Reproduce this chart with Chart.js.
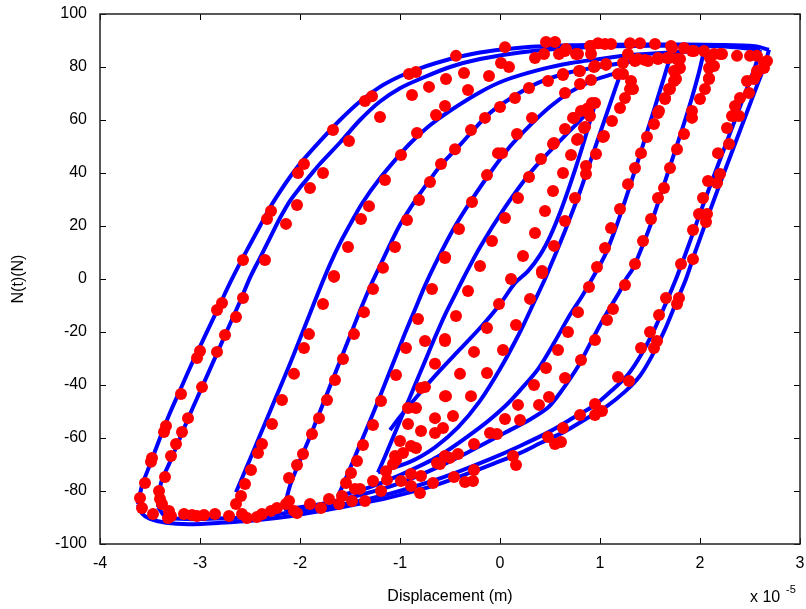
<!DOCTYPE html>
<html>
<head>
<meta charset="utf-8">
<script src="https://cdn.jsdelivr.net/npm/chart.js@4.4.1/dist/chart.umd.min.js"></script>
<style>
  html, body { margin: 0; padding: 0; background: #fff; }
</style>
</head>
<body>
<canvas id="chart" width="806" height="609"></canvas>
<script>
// displacement in units of 1e-5 m, force N(t) in N
const xTicks = [-4, -3, -2, -1, 0, 1, 2, 3];
const yTicks = [-100, -80, -60, -40, -20, 0, 20, 40, 60, 80, 100];

// model curves (blue), one array per branch: [x, N]
const upA = [[-3.62,-85],[-3.58,-78],[-3.5,-70],[-3.4,-60],[-3.3,-50.5],[-3.2,-42],[-3.1,-33.5],[-3.0,-25.5],[-2.9,-17.5],[-2.8,-9.5],[-2.7,-1.5],[-2.6,6],[-2.5,13],[-2.4,20],[-2.3,27],[-2.2,33],[-2.1,38.5],[-2.0,43.5],[-1.8,52],[-1.6,60],[-1.4,67],[-1.2,72.5],[-1.0,76.5],[-0.8,79.5],[-0.5,83],[-0.2,85.5],[0.2,87.3],[0.7,88.2],[1.5,88.5],[2.2,88.3],[2.55,87.8],[2.69,86.5]];
const downA = [[2.69,86.5],[2.64,80],[2.56,72],[2.47,63],[2.37,53],[2.27,43],[2.16,32],[2.05,20.5],[1.95,10],[1.86,0],[1.76,-9],[1.65,-19],[1.52,-29],[1.4,-36.5],[1.25,-42.5],[1.05,-48.5],[0.85,-53],[0.65,-57.5],[0.4,-62],[0.21,-65.5],[-0.05,-69.5],[-0.29,-73],[-0.62,-77.5],[-1.12,-82.6],[-1.5,-85.5],[-1.78,-87.5],[-2.1,-89.5],[-2.44,-91],[-2.8,-92],[-3.11,-92.5],[-3.34,-92],[-3.5,-90.5],[-3.58,-88.5],[-3.62,-85]];
const upB = [[-3.42,-86],[-3.39,-77],[-3.3,-69],[-3.2,-60],[-3.1,-51],[-3.0,-42.5],[-2.9,-34],[-2.8,-25.5],[-2.7,-17],[-2.6,-8.5],[-2.5,0.5],[-2.4,8],[-2.3,15.5],[-2.2,23],[-2.1,29.5],[-2.0,34.5],[-1.9,39],[-1.8,43.5],[-1.6,51.5],[-1.4,60],[-1.2,67],[-1.0,72],[-0.8,75.5],[-0.5,80],[-0.2,83],[0.2,85.5],[0.7,87.2],[1.5,88],[2.2,87.8],[2.6,86.5]];
const downB = [[2.6,86.5],[2.55,80],[2.47,72],[2.38,63],[2.28,53],[2.18,43],[2.07,32],[1.96,20.5],[1.86,10],[1.76,0],[1.66,-9],[1.55,-18.5],[1.42,-28],[1.28,-36],[1.12,-42],[0.95,-47.5],[0.75,-52],[0.5,-57.5],[0.2,-63],[-0.1,-68],[-0.4,-72.5],[-0.7,-76.5],[-1.1,-81],[-1.5,-84.5],[-1.9,-87],[-2.4,-89.5],[-2.9,-90.5],[-3.2,-90.5],[-3.35,-89.5],[-3.42,-86]];
const upC = [[-2.64,-80.5],[-2.5,-68],[-2.4,-59],[-2.3,-50],[-2.2,-41],[-2.1,-32],[-2.0,-22.5],[-1.9,-13],[-1.8,-3.5],[-1.7,5.5],[-1.6,13.5],[-1.5,20.5],[-1.38,28.5],[-1.2,38],[-1.0,47],[-0.89,51.5],[-0.7,58],[-0.5,63.5],[-0.2,70.5],[0.05,75],[0.4,79],[0.71,81.5],[1.0,83],[1.3,84.5],[1.7,85.5],[2.04,86]];
const downC = [[2.04,86],[1.99,78],[1.92,68.5],[1.83,57.5],[1.73,46],[1.63,34.5],[1.53,23],[1.43,13],[1.33,4],[1.26,0],[1.2,-4.5],[1.05,-14],[0.9,-24.5],[0.78,-33],[0.6,-43],[0.48,-48.5],[0.3,-53],[0.05,-58],[-0.3,-65],[-0.62,-71],[-1.0,-77],[-1.4,-81.5],[-1.8,-85],[-2.16,-87]];
const upD = [[-2.16,-87],[-2.1,-78],[-2.0,-68.5],[-1.9,-59.5],[-1.8,-50],[-1.7,-40.5],[-1.6,-31],[-1.5,-21.5],[-1.4,-12],[-1.3,-3],[-1.2,5],[-1.1,13],[-1.0,20.5],[-0.85,29.5],[-0.7,37.5],[-0.59,43],[-0.39,51],[-0.12,62],[0.1,68],[0.38,74],[0.7,78],[0.98,80],[1.3,82],[1.7,83.5]];
const downD = [[1.7,83.5],[1.64,76],[1.55,65],[1.45,53],[1.35,41],[1.25,29.5],[1.15,18.5],[1.05,9],[0.92,0],[0.82,-6.5],[0.7,-13.5],[0.55,-23.5],[0.38,-34],[0.2,-42],[0.05,-48],[-0.2,-56],[-0.62,-67],[-1.0,-74],[-1.3,-78.5],[-1.62,-82]];
const upE = [[-1.62,-82],[-1.55,-76],[-1.45,-67],[-1.35,-58],[-1.25,-49],[-1.15,-39.5],[-1.05,-30],[-0.95,-20.5],[-0.85,-11.5],[-0.75,-2.5],[-0.65,5.5],[-0.5,16.5],[-0.4,23],[-0.29,29.5],[-0.1,40],[0.1,50],[0.3,58],[0.5,65],[0.7,70.5],[0.9,74.5],[1.1,77],[1.21,78]];
const downE = [[1.21,78],[1.1,66],[1.0,55],[0.9,44],[0.8,33],[0.7,23],[0.6,13.5],[0.5,4.5],[0.45,0],[0.35,-8],[0.2,-20],[0.0,-34],[-0.2,-46],[-0.42,-56],[-0.65,-63.5],[-0.9,-69],[-1.22,-73]];
const upF = [[-1.22,-73],[-1.15,-67],[-1.05,-58],[-0.95,-49],[-0.85,-40],[-0.75,-31],[-0.65,-22],[-0.55,-13.5],[-0.45,-6],[-0.37,0],[-0.2,12],[0.05,27],[0.3,40],[0.48,47.5],[0.7,56],[0.88,63],[0.95,66]];
const downF = [[0.95,66],[0.88,57],[0.8,47],[0.7,35.5],[0.6,25],[0.5,16],[0.4,9],[0.28,3],[0.15,-1.5],[0.0,-9.5],[-0.2,-18.5],[-0.4,-26.5],[-0.6,-34.5],[-0.8,-43],[-1.0,-52],[-1.1,-57]];
const modelBranches = [upA, downA, upB, downB, upC, downC, upD, downD, upE, downE, upF, downF];

// measured points (red), upper half
const measuredUpper = [
  [-2.57,7.2],[-2.35,7.2],[-2.33,22.6],[-2.29,25.7],[-2.14,20.8],[-2.03,27.9],[-2.02,40],[-1.96,43.4],[-1.90,34.3],[-1.77,40],
  [-1.67,56.2],[-1.51,52.1],[-1.35,67.2],[-1.28,69],[-1.20,61.1],[-0.91,77.4],[-0.84,78.1],[-0.88,69.4],[-0.71,72.5],[-0.54,75.5],
  [-0.55,65.3],[-0.64,61.9],[-0.83,55.1],[-0.99,46.8],[-1.15,37.4],[-1.31,27.5],[-1.39,22.6],[-1.52,12.1],[-1.66,1.1],[-0.59,43.4],
  [-0.70,36.6],[-0.81,29.8],[-0.93,22.3],[-1.05,12.1],[-1.17,4.2],[-0.55,8.3],[-0.45,49],[-0.02,47.5],
  [-0.44,84.2],[0.05,87.5],[-0.36,77.7],[-0.32,71.3],[-0.11,76.6],[0.01,81.5],[0.09,80],[-0.29,56.2],[-0.15,60.8],[0,64.9],
  [0.15,68.3],[0.29,72.1],[0.48,74.7],[0.63,77],[0.80,78.5],[0.94,80],[1.06,80.8],[1.23,81.5],[0.35,83.4],[0.44,84.9],
  [0.59,84.9],[0.66,86.8],[0.76,84.9],[0.90,87.9],[0.98,89],[1.11,88.7],[0.46,89.4],[0.55,89.4],[1.30,89],[1.40,89],
  [1.55,88.7],[1.35,82.3],[1.45,82.6],[1.23,77.4],[1.31,74.7],[1.30,71.7],[1.25,68.3],[1.20,64.5],[1.12,59.6],[1.04,54],
  [0.96,47.2],[0.86,39.6],[0.75,30.6],[0.65,21.9],[0.54,12.5],[0.42,3],[0.92,66.4],[0.87,64.2],[0.90,61.5],[0.81,63.4],
  [0.73,60.8],[0.84,57],[0.65,56.6],[0.53,50.9],[0.78,52.8],[0.71,46.8],[0.63,40],[0.53,33.2],[0.45,25.7],[0.35,17.4],
  [0.23,8.7],[0.17,54.7],[0.32,60.8],[0.02,47.5],[-0.13,39.2],[-0.28,29.1],[-0.41,18.9],[-0.55,7.9],[0.18,30.6],[0.29,38.5],
  [0.05,23],[-0.08,14.3],[-0.20,4.9],[0.86,42.6],[0.74,60.8],[0.85,57.4],[0.77,52.5],[1.03,53.6],[0.41,45.3],[0.54,51.3],
  [1.72,87.2],[1.84,87.2],[1.58,83.4],[1.67,83.4],[1.77,83],[1.78,79.2],[1.76,75.5],[1.70,71.7],[1.65,68.3],[1.59,63.4],
  [1.54,58.5],[1.47,53.6],[1.41,47.5],[1.35,41.9],[1.28,35.8],[1.20,26.4],[1.11,19.2],[1.05,11.7],[0.97,4.5],[1.94,86],
  [2.04,86],[2.09,79.6],[2.09,75.5],[2.05,71.7],[2.00,67.9],[1.92,63.4],[1.84,54.7],[1.77,49],[1.70,41.9],[1.64,34.3],
  [1.58,30.6],[1.51,22.6],[1.43,14.3],[1.35,5.7],[2.20,84.9],[2.37,84.2],[2.50,84.2],[2.64,81.5],[2.57,77.7],[2.47,74.7],
  [2.49,70.2],[2.40,68.3],[2.35,65.3],[2.32,61.5],[2.39,61.5],[2.27,57],[2.29,50.9],[2.18,47.5],[2.20,39.6],[2.08,37],
  [2.17,36.2],[2.03,30.6],[2.07,24.5],[1.99,24.5],[2.06,21.5],[1.93,18.5],[1.93,7.5],[1.81,5.7],[1.92,60.8],[2.34,61.5],
  [0.91,87.9],[1.05,88.7],[1.71,87.9],[1.92,86],[2.14,84.9],[2.22,84.9],[2.57,84.2],[2.67,82.3],[2.64,79.6],[2.57,78.5],
  [2.54,75.5],[1.28,84.9],[1.38,83],[1.48,82.3],[1.58,83],[1.69,83.4],[1.80,83],[1.80,79.6],[1.33,71.7],[0.78,84.9],
  [0.65,86],[0.91,84.9],[0.95,80.4],[1.06,81.1],[1.18,77.4],[0.79,78.5],[0.91,75.1],[0.63,77.4],[0.80,73.6],[0.65,70.2],
  [0.95,66.4],[0.88,63.4],[2.10,83.4],[2.14,80.4],[2.09,75.8],[1.74,78.5],[1.74,74.7],[1.69,71.7],[1.65,67.9],[1.58,62.6]
];

// measured points (red), lower half
const measuredLower = [
  [-2.78,-9.1],[-2.83,-11.7],[-2.57,-7.2],[-2.64,-14.3],[-2.75,-21.1],[-3.00,-27.2],[-3.03,-29.8],[-2.83,-27.5],[-2.98,-40.8],[-3.19,-43.4],
  [-3.12,-52.5],[-3.34,-55.5],[-3.36,-57.7],[-3.18,-57.7],[-3.24,-62.3],[-3.29,-66.8],[-3.48,-67.5],[-3.49,-69],[-3.35,-74.7],[-3.55,-77],
  [-3.41,-80],[-3.60,-82.6],[-3.40,-83],[-3.38,-84.9],[-3.58,-86.4],[-3.47,-88.7],[-3.31,-87.5],[-3.29,-89.4],[-3.32,-90.2],[-3.16,-88.7],
  [-3.08,-89.1],[-3.03,-89.4],[-2.96,-89.1],[-2.85,-88.7],[-2.71,-89.4],[-2.64,-84.9],[-2.59,-81.9],[-2.58,-88.7],[-2.53,-90.2],[-2.43,-89.8],
  [-2.38,-88.7],[-2.29,-87.5],[-2.23,-86.4],[-2.14,-84.9],[-2.11,-83.8],[-2.06,-87.5],[-2.03,-88.3],[-1.90,-84.9],[-1.79,-86.4],[-1.71,-83],
  [-1.61,-84.9],[-1.58,-81.9],[-1.48,-83.8],[-1.35,-83.8],[-1.54,-77],[-1.49,-73.2],[-1.45,-79.2],[-1.40,-79.2],[-1.27,-76.2],[-1.19,-80],
  [-1.13,-75.8],[-1.14,-72.5],[-1.05,-66.8],[-1.00,-61.1],[-0.97,-65.7],[-1.07,-69.8],[-1.04,-68.3],[-0.89,-63],[-0.84,-63.8],[-0.79,-57.4],
  [-0.65,-58.1],[-0.65,-52.5],[-0.89,-73.6],[-0.99,-76.2],[-0.89,-78.1],[-0.80,-80.8],[-0.79,-74.3],[-0.67,-77],[-0.63,-69.4],[-0.55,-66.8],
  [-0.92,-54.7],[-0.92,-48.7],[-0.84,-48.7],[-0.79,-41.1],[-0.65,-32],[-0.55,-22.6],[-0.55,-44.2],
  [-1.66,0.8],[-1.77,-9.4],[-1.91,-20.8],[-1.96,-26],[-2.06,-35.8],[-2.18,-45.7],[-2.28,-54.7],[-2.38,-62.3],[-2.42,-65.7],[-2.49,-72.1],[-2.55,-77.4],
  [-1.27,-3.8],[-1.36,-12.5],[-1.46,-20.8],[-1.57,-30.2],[-1.65,-38.1],[-1.73,-45.7],[-1.81,-52.5],[-1.88,-58.5],[-1.97,-66],[-2.03,-70.2],[-2.11,-75.1],
  [-0.68,-3.8],[-0.82,-15.1],[-0.75,-23.4],[-0.94,-26],[-0.75,-40.8],[-1.04,-36.2],[-1.19,-46],[-1.27,-55.1],[-1.37,-62.6],[-1.43,-68.7],[-0.57,-56.2],
  [-0.32,-4.5],[0.11,0],[0.42,2.3],[0.30,-7.5],[-0.01,-9.4],[-0.44,-14],[-0.13,-18.5],[0.16,-17.4],[-0.55,-23.4],[-0.26,-27.5],
  [0.03,-26.8],[-0.13,-35.5],[-0.40,-35.8],[-0.54,-44.2],[-0.29,-44.2],[-0.47,-51.7],[-0.10,-58.1],[-0.03,-58.5],[-0.26,-62.3],[-0.42,-66],
  [-0.50,-67.5],[-0.60,-69.8],[-0.46,-74.7],[-0.35,-76.6],[-0.27,-76.2],[-0.26,-72.1],[0.13,-66.8],[0.16,-70.2],[0.48,-59.6],[0.55,-62.3],
  [0.61,-61.5],[0.63,-56.2],[0.80,-51.3],[0.95,-47.2],[0.95,-51.3],[1.02,-49.8],[0.05,-52.8],[0.20,-53.2],[0.18,-47.5],[0.39,-47.5],
  [0.49,-44.5],[0.34,-40],[0.65,-37.4],[0.46,-33.6],[0.81,-30.6],[0.58,-26.8],[0.95,-23],[0.68,-20],[1.07,-15.5],[0.78,-12.5],
  [1.13,-11.3],[0.89,-3],[1.25,-2.3],[1.18,-37],[1.29,-38.5],[1.41,-26],[1.54,-26],[1.57,-23.4],[1.50,-20],[1.59,-13.6],
  [1.66,-7.2],[1.77,-9.4],[1.79,-7.2]
];

const toXY = pts => pts.map(p => ({ x: p[0], y: p[1] }));

const datasets = [{
  label: 'Measured',
  data: toXY(measuredUpper.concat(measuredLower)),
  pointRadius: 6,
  pointBackgroundColor: '#ff0000',
  pointBorderWidth: 0,
  showLine: false
}];
modelBranches.forEach((branch, i) => {
  datasets.push({
    label: 'Model ' + i,
    data: toXY(branch),
    showLine: true,
    borderColor: '#0000ff',
    borderWidth: 4,
    pointRadius: 0,
    tension: 0.3
  });
});

// inward tick marks on all four sides, frame box and the x 10^-5 multiplier
const frameTicks = {
  id: 'frameTicks',
  afterDraw(chart) {
    const { ctx, chartArea: a } = chart;
    const xs = chart.scales.x, ys = chart.scales.y;
    ctx.save();
    ctx.strokeStyle = '#000';
    ctx.lineWidth = 1;
    ctx.beginPath();
    xTicks.forEach(v => {
      const px = Math.round(xs.getPixelForValue(v)) + 0.5;
      ctx.moveTo(px, a.bottom); ctx.lineTo(px, a.bottom - 6);
      ctx.moveTo(px, a.top); ctx.lineTo(px, a.top + 6);
    });
    yTicks.forEach(v => {
      const py = Math.round(ys.getPixelForValue(v)) + 0.5;
      ctx.moveTo(a.left, py); ctx.lineTo(a.left + 6, py);
      ctx.moveTo(a.right, py); ctx.lineTo(a.right - 6, py);
    });
    ctx.stroke();
    ctx.lineWidth = 1.5;
    ctx.strokeStyle = '#222';
    ctx.strokeRect(a.left, a.top, a.right - a.left, a.bottom - a.top);
    ctx.fillStyle = '#000';
    ctx.textBaseline = 'alphabetic';
    ctx.font = '16px "Liberation Sans", Arial, sans-serif';
    ctx.fillText('x 10', 750, 602);
    ctx.font = '11px "Liberation Sans", Arial, sans-serif';
    ctx.fillText('-5', 786, 593);
    ctx.restore();
  }
};

const tickFont = { family: '"Liberation Sans", Arial, sans-serif', size: 16 };

new Chart(document.getElementById('chart'), {
  type: 'scatter',
  data: { datasets },
  options: {
    responsive: false,
    animation: false,
    devicePixelRatio: 1,
    layout: { padding: { top: 14, right: 4, left: 0, bottom: 0 } },
    plugins: { legend: { display: false }, tooltip: { enabled: false } },
    scales: {
      x: {
        type: 'linear', min: -4, max: 3,
        afterBuildTicks: s => { s.ticks = xTicks.map(v => ({ value: v })); },
        afterFit: s => { s.height = 65; s.paddingLeft = 0; s.paddingRight = 0; },
        grid: { display: false, drawTicks: false },
        border: { display: false },
        ticks: { font: tickFont, color: '#000', padding: 10 },
        title: { display: true, text: 'Displacement (m)', font: tickFont, color: '#000', padding: { top: 0, bottom: 3 } }
      },
      y: {
        type: 'linear', min: -100, max: 100,
        afterBuildTicks: s => { s.ticks = yTicks.map(v => ({ value: v })); },
        afterFit: s => { s.width = 100; s.paddingTop = 0; s.paddingBottom = 0; },
        grid: { display: false, drawTicks: false },
        border: { display: false },
        ticks: { font: tickFont, color: '#000', padding: 13 },
        title: { display: true, text: 'N(t)(N)', font: tickFont, color: '#000', padding: { top: 9, bottom: 0 } }
      }
    }
  },
  plugins: [frameTicks]
});
</script>
</body>
</html>
